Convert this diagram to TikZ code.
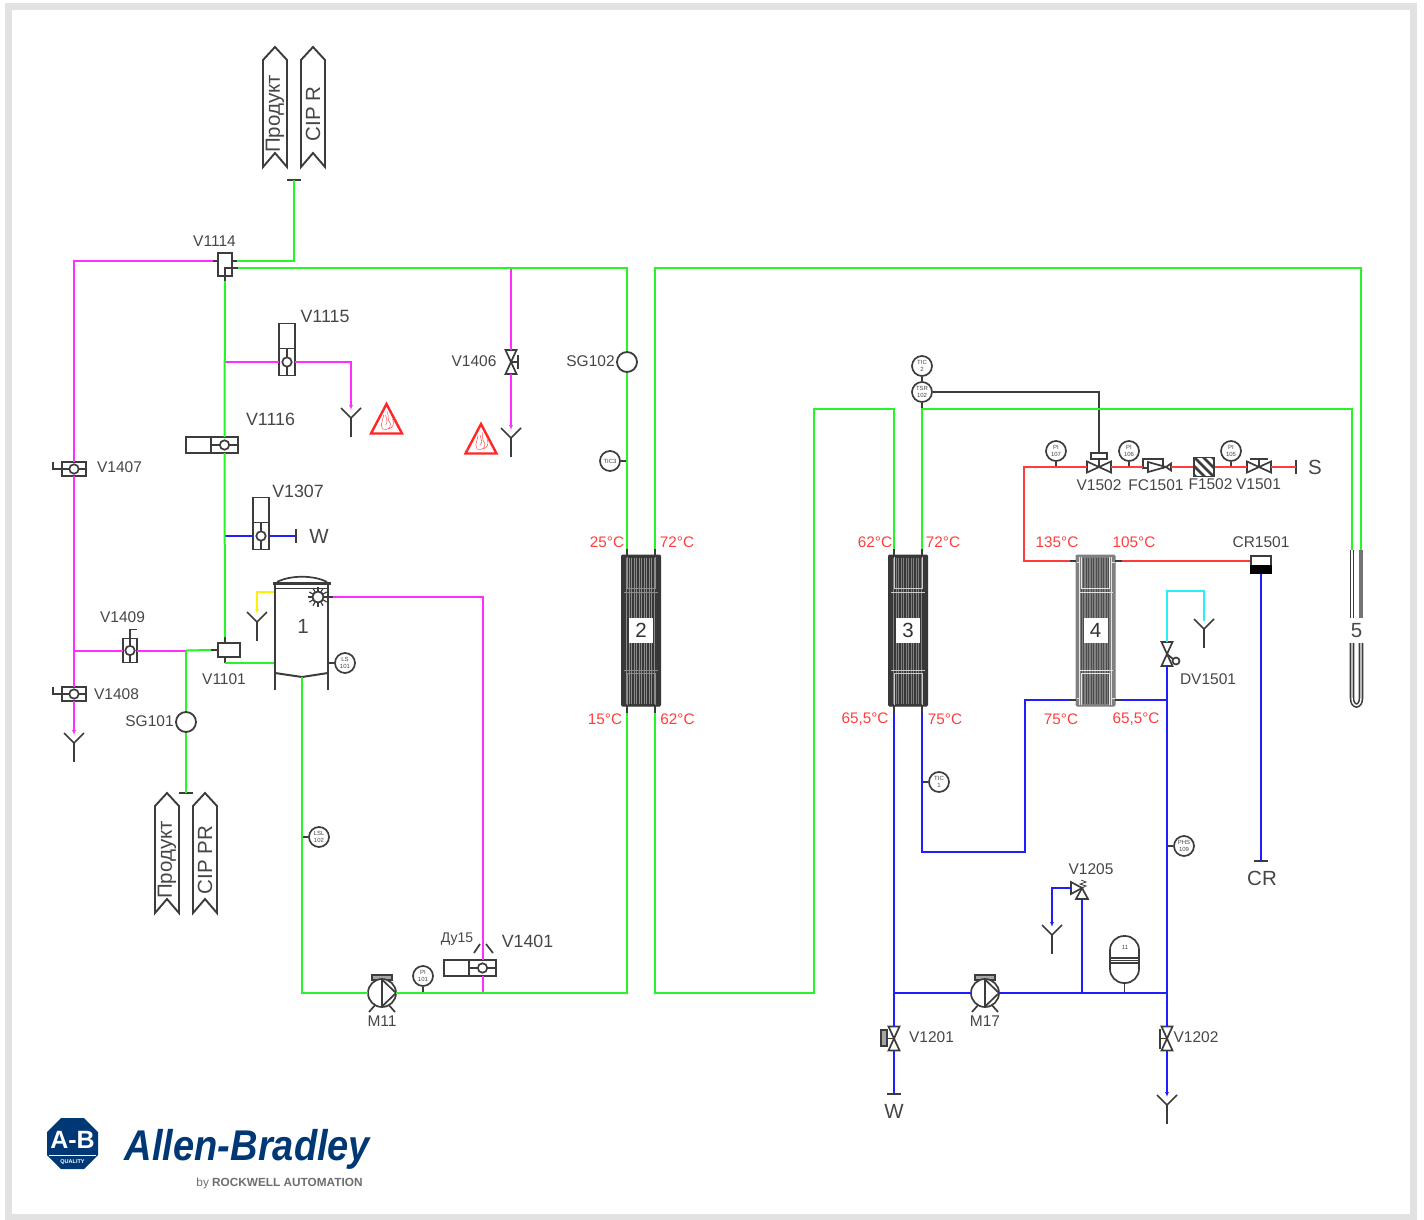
\documentclass[tikz,border=0pt]{standalone}
\usepackage{fontspec}
\setmainfont{Liberation Sans}
\usetikzlibrary{calc,arrows.meta}

\definecolor{greenline}{RGB}{40,245,40}
\definecolor{magentaline}{RGB}{255,45,255}
\definecolor{blueline}{RGB}{30,30,255}
\definecolor{redline}{RGB}{255,60,60}
\definecolor{cyanline}{RGB}{40,240,240}
\definecolor{yellowline}{RGB}{255,240,0}
\definecolor{symbolgray}{RGB}{60,60,60}
\definecolor{textgray}{RGB}{70,70,70}
\definecolor{framegray}{RGB}{226,226,226}
\definecolor{abblue}{RGB}{0,56,118}
\definecolor{abgray}{RGB}{110,110,110}

\begin{document}
\begin{tikzpicture}[x=1pt, y=-1pt,
		symbol/.style={draw=symbolgray, line width=1.7pt},
		greenpipe/.style={draw=greenline, line width=2pt},
		magentapipe/.style={draw=magentaline, line width=2pt},
		bluepipe/.style={draw=blueline, line width=2pt},
		redpipe/.style={draw=redline, line width=2pt},
		cyanpipe/.style={draw=cyanline, line width=2pt},
		yellowpipe/.style={draw=yellowline, line width=2pt},
		toy/.style={-{Latex[length=5pt,width=4pt]}},
		tagsmall/.style={text=textgray, inner sep=0pt, font=\fontsize{15.5}{17}\selectfont},
		tagbig/.style={text=textgray, inner sep=0pt, font=\fontsize{17.8}{20}\selectfont},
		tagplain/.style={text=textgray, inner sep=0pt, font=\fontsize{20.5}{22}\selectfont},
		temp/.style={text=redline, inner sep=0pt, font=\fontsize{15.3}{17}\selectfont},
		gauge/.style={circle, draw=symbolgray, line width=1.7pt, fill=white, minimum size=20pt, inner sep=0pt,
			align=center, text=textgray, font=\fontsize{6}{7.5}\selectfont},
		sight/.style={circle, draw=symbolgray, line width=1.8pt, fill=white, minimum size=20pt, inner sep=0pt},
		valvebox/.style={rectangle, draw=symbolgray, line width=1.7pt, fill=white, inner sep=0pt},
		pics/ballvalve/.style 2 args={code={
			\draw[symbol, fill=white] (-#1, -#2) rectangle (#1, #2);
			\draw[symbol] (0, -#2) -- (0, #2);
			\draw[symbol, fill=white] (0, 0) circle (4.7);
			\coordinate (-a) at (-#1, 0);
			\coordinate (-b) at (#1, 0);
			\coordinate (-c) at (0, 0);
		}},
		pics/drivebox/.style 2 args={code={
			\draw[symbol, fill=white] (-#1, -#2) rectangle (#1, -#2 - 25);
		}},
		pics/handle/.style={code={
			\draw[symbol] (0, -11.5) -- (0, -21) -- (7, -21);
		}},
		pics/bowtie/.style={code={
			\draw[symbol, fill=white] (-12, -5.5) -- (12, 5.5) -- (12, -5.5) -- (-12, 5.5) -- cycle;
			\coordinate (-a) at (-12, 0);
			\coordinate (-b) at (12, 0);
			\coordinate (-c) at (0, 0);
		}},
		pics/outlet/.style={code={
			\draw[symbol] (-10, -10) -- (0, 0) -- (10, -10);
			\draw[symbol] (0, 0) -- (0, 19);
			\coordinate (-top) at (0, -8);
		}},
		pics/capbar/.style={code={
			\draw[symbol] (-7, 0) -- (7, 0);
			\coordinate (-a) at (0, 0);
		}},
		pics/pump/.style={code={
			\draw[symbol] (-6, 11) -- (-13, 19);
			\draw[symbol] (6, 11) -- (13, 19);
			\draw[symbol, fill=black!35] (-10, -18) rectangle (10, -13);
			\draw[symbol, fill=white] (0, 0) circle (14);
			\draw[symbol] (0, -14) -- (0, 14);
			\draw[symbol] (0, -13.5) -- (14, 0) -- (0, 13.5);
			\coordinate (-in) at (-14, 0);
			\coordinate (-out) at (14, 0);
		}},
		pics/banner/.style={code={
			\draw[symbol, line width=1.9pt, fill=white] (-12, 120) -- (-12, 13) -- (0, 0) -- (12, 13) -- (12, 120) -- (0, 106) -- cycle;
			\node[tagplain, rotate=90] (-text) at (0, 67) {#1};
		}},
		pics/hotsign/.style={code={
			\draw[draw=red!85!white, line width=2.4pt, fill=white, line join=miter] (-15.5, 15.5) -- (0, -14) -- (15.5, 15.5) -- cycle;
			\draw[draw=red!70!white, line width=0.5pt] (-4, 11) .. controls (4, 13) and (6, 7) .. (2, 2) .. controls (1, -2) and (2, -4) .. (1, -6);
			\draw[draw=red!70!white, line width=0.5pt] (-4, 11) .. controls (-7, 6) and (-3, 2) .. (-3, -3);
			\draw[draw=red!70!white, line width=0.5pt] (-1, 7) .. controls (2, 5) and (0, 1) .. (-1, -3);
			\draw[draw=red!70!white, line width=0.5pt] (2, 11) .. controls (7, 10) and (8, 5) .. (6, 1);
		}},
		pics/platehx/.style n args={4}{code={
			\draw[draw=#1, fill=#1, line width=1pt, rounded corners=1pt] (-19.5, -75.5) rectangle (19.5, 75.5);
			\foreach \sx in {-14.5, -12, ..., 15}
			{
				\draw[draw=#2, line width=0.8pt] (\sx, -73) -- (\sx, 73);
			}
			\draw[draw=#3, line width=1pt] (-14, -74) -- (-14, -42) -- (14, -42) -- (14, -74);
			\draw[draw=#3, line width=1pt] (-17, -38.5) -- (17, -38.5);
			\draw[draw=#3, line width=1pt] (-17, 39.5) -- (17, 39.5);
			\draw[draw=#3, line width=1pt] (-14, 74) -- (-14, 43) -- (14, 43) -- (14, 74);
			\node[fill=white, minimum width=24pt, minimum height=25pt, inner sep=0pt, text=black!80,
				font=\fontsize{20.5}{22}\selectfont] (-number) at (0, 0) {#4};
		}},
		pics/topports/.style={code={
			\foreach \portname/\portx/\porty in {a/-14/-82, b/14/-82, c/-14/82, d/14/82}
			{
				\coordinate (-\portname) at (\portx, \porty);
				\draw[symbol] (\portx, \porty) -- (\portx, \porty * 0.92);
			}
		}},
		pics/sideports/.style={code={
			\foreach \portname/\portx/\porty in {lt/-26/-69.5, rt/26/-69.5, lb/-26/69.5, rb/26/69.5}
			{
				\coordinate (-\portname) at (\portx, \porty);
				\draw[symbol] (\portx, \porty) -- (\portx * 0.75, \porty);
			}
		}}
	]

		\useasboundingbox (0, 0) rectangle (1424, 1220);
		\draw[draw=framegray, line width=7pt] (8.5, 6.5) rectangle (1413.5, 1217.5);

		% draw the banners
		\pic (bannera) at (275, 47) {banner=Продукт};
		\pic (bannerb) at (313, 47) {banner={CIP R}};
		\pic (bannerc) at (167, 793) {banner=Продукт};
		\pic (bannerd) at (205, 793) {banner={CIP PR}};

		% draw hand and driven ball valves
		\foreach \vname/\vx/\vy/\vturn in {v1407/74/469/90, v1408/74/694/90, v1409/130/650.5/0}
		{
			\pic[rotate=\vturn] (\vname) at (\vx, \vy) {ballvalve={7}{12}};
			\pic[rotate=\vturn] at (\vx, \vy) {handle};
		}
		\foreach \vname/\vx/\vy/\vturn in {v1115/287/362/0, v1116/224.5/445/90, v1307/261/536/0, v1401/482.5/968/90}
		{
			\pic[rotate=\vturn] (\vname) at (\vx, \vy) {ballvalve={8}{13.5}};
			\pic[rotate=\vturn] at (\vx, \vy) {drivebox={8}{13.5}};
		}
		\draw[symbol] (474, 953) -- (480, 944);
		\draw[symbol] (486, 944) -- (493, 953);

		% draw the two box valves
		\node[valvebox, minimum width=14pt, minimum height=23pt] (v1114) at (225, 264.5) {};
		\coordinate (v1114-w) at (213, 261);
		\coordinate (v1114-ne) at (237, 261);
		\coordinate (v1114-se) at (238, 268);
		\coordinate (v1114-s) at (225, 281);
		\draw[symbol] (v1114-w) -- (v1114-w -| v1114.west);
		\draw[symbol] (v1114-ne) -- (v1114-ne -| v1114.east);
		\draw[symbol] (v1114-se) -| (v1114-s);

		\node[valvebox, minimum width=22pt, minimum height=14pt] (v1101) at (229, 650) {};
		\coordinate (v1101-n) at (225, 637);
		\coordinate (v1101-s) at (225, 663);
		\coordinate (v1101-w) at (211, 650);
		\draw[symbol] (v1101-n) -- (v1101-n |- v1101.north);
		\draw[symbol] (v1101-s) -- (v1101-s |- v1101.south);
		\draw[symbol] (v1101-w) -- (v1101.west);

		% draw bowtie valves
		\foreach \vname/\vx/\vy/\vturn in {v1406/511/362/90, v1502/1099/467/0, v1501/1259/467/0, v1201/894/1038.5/90, v1202/1167/1038.5/90, dv1501/1167/654/90}
		{
			\pic[rotate=\vturn] (\vname) at (\vx, \vy) {bowtie};
		}
		\draw[symbol] (v1406-c) -- ++(7, 0) ++(0, -7) -- ++(0, 14);
		\draw[symbol, fill=white] (1091, 453) rectangle (1107, 459);
		\coordinate (v1502-top) at (1099, 453);
		\draw[symbol] (1099, 459) -- (v1502-c);
		\draw[symbol] (v1501-c) -- ++(0, -8) ++(-9, 0) -- ++(18, 0);
		\draw[symbol, fill=black!35] (881, 1030) rectangle (887, 1046);
		\draw[symbol] (887, 1038.5) -- (v1201-c);
		\draw[symbol] (v1202-c) -- ++(-7, 0) ++(0, -10) -- ++(0, 20);
		\draw[symbol] (dv1501-c) -- (1173, 659);
		\draw[symbol] (1176, 661) circle (3.5);

		% draw the fitting and the filter on the red line
		\draw[symbol, fill=white] (1143, 459) rectangle (1163, 468);
		\draw[symbol, fill=white] (1148, 462) -- (1166, 467) -- (1148, 472) -- cycle;
		\draw[symbol, fill=white] (1166, 467) -- (1171, 463.5) -- (1171, 470.5) -- cycle;
		\coordinate (fc1501-a) at (1143, 467);
		\coordinate (fc1501-b) at (1171, 467);
		\node[valvebox, minimum width=20pt, minimum height=19pt, path picture={
			\foreach \d in {-18, -9, ..., 18}
			{
				\draw[draw=symbolgray, line width=2.6pt] ($(path picture bounding box.center) + (\d - 12, -12)$) -- ($(path picture bounding box.center) + (\d + 12, 12)$);
			}
		}] (f1502) at (1204, 467) {};

		% draw relief valve
		\draw[symbol, fill=white] (1082, 888) -- (1076, 899) -- (1088, 899) -- cycle;
		\draw[symbol, fill=white] (1082, 888) -- (1071, 882) -- (1071, 894) -- cycle;
		\draw[line width=0.8pt, draw=symbolgray] (1082, 888) -- (1086, 886) -- (1080, 884) -- (1086, 882) -- (1081, 880);
		\coordinate (v1205-in) at (1082, 899);
		\coordinate (v1205-out) at (1071, 888);

		% draw outlets
		\foreach \oname/\ox/\oy in {ya/351/418, yb/511/438, yc/74/743, yd/257/622, ye/1204/629, yf/1052/935, yg/1167/1105}
		{
			\pic (\oname) at (\ox, \oy) {outlet};
		}

		% draw cap ends
		\foreach \cname/\cx/\cy/\cturn in {capa/294/180/0, capb/186/793/0, capc/296/536/90, capd/894/1094/0, cape/1261/861/0, capf/1296/467/90}
		{
			\pic[rotate=\cturn] (\cname) at (\cx, \cy) {capbar};
		}

		% draw hot signs
		\pic (hota) at (386.5, 418) {hotsign};
		\pic (hotb) at (481, 438) {hotsign};

		% draw vessel
		\coordinate (vessel-in) at (274, 663);
		\coordinate (vessel-out) at (302, 677);
		\coordinate (vessel-vent) at (274, 592);
		\coordinate (spray-out) at (333, 597);
		\draw[symbol, line width=2pt] (275, 585) -- (275, 690);
		\draw[symbol, line width=2pt] (328, 585) -- (328, 690);
		\draw[symbol, line width=2pt] (275, 673) -- (vessel-out) -- (328, 673);
		\draw[symbol, line width=2.8pt] (273, 583.5) -- (331, 583.5);
		\draw[symbol, line width=1pt] (275, 588) -- (328, 588);
		\draw[symbol] (277, 582) .. controls (290, 575) and (314, 575) .. (327, 582);
		\node[tagplain] (vesselnumber) at (303, 626) {1};
		\foreach \ray in {0, 30, ..., 330}
		{
			\draw[symbol, line width=1.2pt] (318, 597) -- ++(\ray:10);
		}
		\draw[symbol, fill=white] (318, 597) circle (5.5);
		\draw[symbol] (328, 597) -- (spray-out);

		% draw pumps
		\pic (m11) at (382, 993) {pump};
		\pic (m17) at (985, 993) {pump};

		% draw plate exchangers
		\pic (hxb) at (641, 630.5) {platehx={black!78}{black!45}{black!45}{2}};
		\pic (hxb) at (641, 630.5) {topports};
		\pic (hxc) at (908, 630.5) {platehx={black!78}{black!50}{black!20}{3}};
		\pic (hxc) at (908, 630.5) {topports};
		\pic (hxd) at (1095.5, 630.5) {platehx={black!50}{black!70}{black!10}{4}};
		\pic (hxd) at (1095.5, 630.5) {sideports};
		\begin{scope}[shift={(1095.5, 630.5)}, draw=black!10, line width=1pt]
			\draw (-16, -74) -- (-16, 74);
			\draw (16, -74) -- (16, 74);
			\draw (-19, -68) -- (-16, -68);
			\draw (19, -68) -- (16, -68);
			\draw (-19, 68) -- (-16, 68);
			\draw (19, 68) -- (16, 68);
		\end{scope}

		% draw double tube
		\coordinate (tube-a) at (1352, 550);
		\coordinate (tube-b) at (1361, 550);
		\draw[draw=symbolgray, line width=4.6pt] (tube-a) -- (1352, 618);
		\draw[draw=white, line width=1.4pt] (tube-a) -- (1352, 618);
		\draw[draw=black!55, line width=4.6pt] (tube-b) -- (1361, 618);
		\draw[draw=symbolgray, line width=4.6pt] (1352, 643) -- (1352, 698) .. controls (1352, 708) and (1361, 708) .. (1361, 698) -- (1361, 643);
		\draw[draw=white, line width=1.4pt] (1352, 643) -- (1352, 698) .. controls (1352, 708) and (1361, 708) .. (1361, 698) -- (1361, 643);
		\node[tagplain] (tubenumber) at (1356.5, 631) {5};

		% draw condensate trap
		\node[valvebox, minimum width=20pt, minimum height=17pt] (cr1501) at (1261, 564.5) {};
		\fill[black] (cr1501.west) rectangle (cr1501.south east);

		% draw tank
		\node[valvebox, minimum width=29pt, minimum height=47pt, rounded corners=14pt] (tank) at (1124.5, 959.5) {};
		\foreach \band in {958, 960.5, 963}
		{
			\draw[symbol, line width=1.1pt] (tank.west |- 0, \band) -- (tank.east |- 0, \band);
		}
		\node[text=textgray, inner sep=0pt, font=\fontsize{6}{7}\selectfont] (tanknumber) at (1125, 947) {11};
		\draw[symbol] (tank.south) -- (tank.south |- m17-out);

		% draw gauges
		\foreach \gname/\gx/\gy/\gtext in {ls101/345/663/{LS\\101}, lsl102/319/837/{LSL\\102}, pi101/423/976/{PI\\101},
			tic3/610/461/{TIC3}, tic2/922/366/{TIC\\2}, tsr102/922/392/{TSR\\102}, tic1/939/782/{TIC\\1},
			pi107/1056/451/{PI\\107}, pi106/1129/451/{PI\\106}, pi105/1231/451/{PI\\105}, phs109/1184/846/{PHS\\109}}
		{
			\node[gauge] (\gname) at (\gx, \gy) {\gtext};
		}
		\node[sight] (sg101) at (186, 722) {};
		\node[sight] (sg102) at (627, 362) {};
		\coordinate (tsr-tap) at (922, 409);

		% draw gauge stems
		\draw[symbol] (ls101.west) -- (ls101.west -| 328, 0);
		\draw[symbol] (lsl102.west) -- (lsl102.west -| vessel-out);
		\draw[symbol] (pi101.south) -- (pi101.south |- m11-out);
		\draw[symbol] (tic3.east) -- (tic3.east -| sg102);
		\draw[symbol] (tic2.south) -- (tsr102.north);
		\draw[symbol] (tsr102.south) -- (tsr-tap);
		\draw[symbol] (tsr102.east) -| (v1502-top);
		\draw[symbol] (tic1.west) -- (tic1.west -| hxc-d);
		\draw[symbol] (pi107.south) -- (pi107.south |- v1502-a);
		\draw[symbol] (pi106.south) -- (pi106.south |- v1502-a);
		\draw[symbol] (pi105.south) -- (pi105.south |- v1502-a);
		\draw[symbol] (phs109.west) -- (phs109.west -| dv1501-a);

		% draw magenta lines
		\coordinate (tee1409) at (74, 650.5);
		\coordinate (tee1115) at (225, 362);
		\coordinate (tee1406) at (511, 268);
		\coordinate (teegauge) at (186, 650.5);
		\draw[magentapipe] (v1114-w) -| (v1407-b);
		\draw[magentapipe] (v1407-a) -- (v1408-b);
		\draw[magentapipe, toy] (v1408-a) -- (yc-top);
		\draw[magentapipe] (tee1409) -- (v1409-a);
		\draw[magentapipe] (v1409-b) -- (teegauge);
		\draw[magentapipe] (tee1115) -- (v1115-a);
		\draw[magentapipe, toy] (v1115-b) -| (ya-top);
		\draw[magentapipe] (tee1406) -- (v1406-b);
		\draw[magentapipe, toy] (v1406-a) -- (yb-top);
		\draw[magentapipe] (spray-out) -| (v1401-b);
		\draw[magentapipe] (v1401-a) -- (v1401-a |- m11-out);

		% draw yellow, blue, cyan and red lines
		\draw[yellowpipe, toy] (vessel-vent) -| (yd-top);
		\coordinate (tee1307) at (225, 536);
		\coordinate (tee1082) at (1082, 993);
		\coordinate (tee894) at (894, 993);
		\coordinate (tee1167) at (1167, 993);
		\coordinate (cyan-corner) at (1167, 591);
		\coordinate (red-corner) at (1024, 561);
		\draw[bluepipe] (tee1307) -- (v1307-a);
		\draw[bluepipe] (v1307-b) -- (capc-a);
		\draw[bluepipe] (hxc-c) -- (v1201-b);
		\draw[bluepipe] (v1201-a) -- (capd-a);
		\draw[bluepipe] (hxc-d) |- (1025, 852) |- (hxd-lb);
		\draw[bluepipe] (hxd-rb) -- (hxd-rb -| dv1501-a);
		\draw[bluepipe] (dv1501-a) -- (v1202-b);
		\draw[bluepipe, toy] (v1202-a) -- (yg-top);
		\draw[bluepipe] (tee894) -- (m17-in);
		\draw[bluepipe] (m17-out) -- (tee1167);
		\draw[bluepipe] (tee1082) -- (v1205-in);
		\draw[bluepipe, toy] (v1205-out) -| (yf-top);
		\draw[bluepipe] (cr1501.south) -- (cape-a);
		\draw[cyanpipe] (dv1501-b) -- (cyan-corner) -| (ye-top);
		\draw[redpipe] (hxd-lt) -- (red-corner) |- (v1502-a);
		\draw[redpipe] (v1502-b) -- (fc1501-a);
		\draw[redpipe] (fc1501-b) -- (f1502.west);
		\draw[redpipe] (f1502.east) -- (v1501-a);
		\draw[redpipe] (v1501-b) -- (capf-a);
		\draw[redpipe] (hxd-rt) -- (hxd-rt -| cr1501.west);

		% draw green lines
		\coordinate (riser-b) at (814, 993);
		\coordinate (riser-t) at (814, 409);
		\draw[greenpipe] (v1114-ne) -| (capa-a);
		\draw[greenpipe] (v1114-se) -| (sg102.north);
		\draw[greenpipe] (sg102.south) -- (hxb-a);
		\draw[greenpipe] (v1114-s) -- (v1116-b);
		\draw[greenpipe] (v1116-a) -- (v1101-n);
		\draw[greenpipe] (v1101-s) -- (vessel-in);
		\draw[greenpipe] (teegauge) -- (v1101-w);
		\draw[greenpipe] (teegauge) -- (sg101.north);
		\draw[greenpipe] (sg101.south) -- (capb-a);
		\draw[greenpipe] (vessel-out) |- (m11-in);
		\draw[greenpipe] (m11-out) -| (hxb-c);
		\draw[greenpipe] (hxb-b) -- (hxb-b |- v1114-se) -| (tube-b);
		\draw[greenpipe] (hxb-d) |- (riser-b) -- (riser-t) -| (hxc-a);
		\draw[greenpipe] (hxc-b) -- (tsr-tap) -| (tube-a);

		% draw tags
		\foreach \tname/\tx/\ty/\ttext in {t1114/214.5/241/V1114, t1407/119.5/467/V1407, t1408/116.5/694/V1408, t1409/122.5/617/V1409,
			t1101/224/679/V1101, tsg101/149.5/721/SG101, t1406/474/361/V1406, tsg102/590.5/361/SG102, t1205/1091/869/V1205,
			t1201/931.5/1037/V1201, t1202/1196/1037/V1202, tdv1501/1208/679/DV1501, tm11/382/1021/M11, tm17/985/1021/M17,
			t1502/1099/485/V1502, tfc1501/1156/485/FC1501, tf1502/1210.5/484.5/F1502, t1501/1258.5/484.5/V1501, tcr1501/1261/542/CR1501}
		{
			\node[tagsmall] (\tname) at (\tx, \ty) {\ttext};
		}
		\foreach \tname/\tx/\ty/\ttext in {t1115/325/316/V1115, t1116/270.5/419/V1116, t1307/298/491/V1307, t1401/527.5/941/V1401}
		{
			\node[tagbig] (\tname) at (\tx, \ty) {\ttext};
		}
		\foreach \tname/\tx/\ty/\ttext in {tw/319/536/W, twb/894/1111/W, ts/1315/467/S, tcr/1262/878/CR}
		{
			\node[tagplain] (\tname) at (\tx, \ty) {\ttext};
		}
		\node[tagsmall, font=\fontsize{14}{16}\selectfont] (tdu15) at (457, 939) {Ду15};

		% draw temperatures
		\foreach \tname/\tx/\ty/\ttext in {ta/607/542/25°C, tb/677/542/72°C, tc/605/719/15°C, td/677.5/719/62°C,
			te/875/542/62°C, tf/943/542/72°C, tg/865/719/{65,5°C}, th/945/719/75°C,
			ti/1057/542/135°C, tj/1134/542/105°C, tk/1061/719/75°C, tl/1136/719/{65,5°C}}
		{
			\node[temp] (\tname) at (\tx, \ty) {\ttext};
		}

		% draw logo
		\fill[abblue] (61, 1118) -- (84, 1118) -- (98, 1132) -- (98, 1155) -- (84, 1169) -- (61, 1169) -- (47, 1155) -- (47, 1132) -- cycle;
		\draw[draw=white, line width=1pt] (49, 1155) -- (96, 1155);
		\node[text=white, inner sep=0pt, font=\bfseries\fontsize{25}{27}\selectfont] (logoab) at (72.5, 1140) {A-B};
		\node[text=white, inner sep=0pt, font=\bfseries\fontsize{5.5}{6}\selectfont] (logoquality) at (72.5, 1162) {QUALITY};
		\node[text=abblue, inner sep=0pt, font=\bfseries\itshape\fontsize{43}{46}\selectfont] (logoname) at (247.5, 1149.5) {\scalebox{0.885}[1]{Allen-Bradley}};
		\node[text=abgray, inner sep=0pt, font=\fontsize{11.8}{13}\selectfont] (logoby) at (279.5, 1183) {by \textbf{ROCKWELL AUTOMATION}};

	\end{tikzpicture}
\end{document}
